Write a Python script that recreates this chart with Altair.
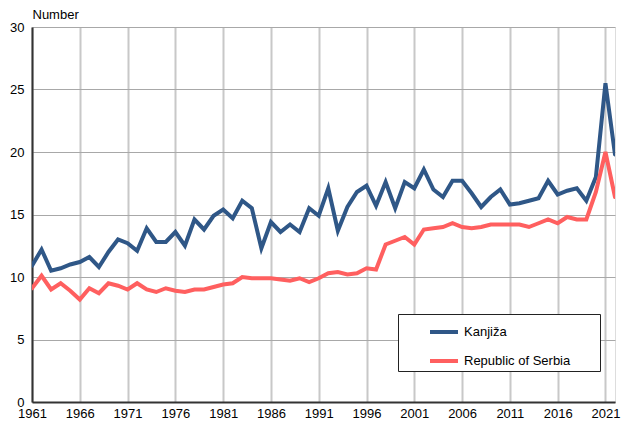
import altair as alt
import pandas as pd

years = list(range(1961, 2023))
kanjiza = [10.9, 12.2, 10.5, 10.7, 11.0, 11.2, 11.6, 10.8, 12.0, 13.0,
           12.7, 12.1, 13.9, 12.8, 12.8, 13.6, 12.5, 14.6, 13.8, 14.9,
           15.4, 14.7, 16.1, 15.5, 12.3, 14.4, 13.6, 14.2, 13.6, 15.5,
           14.9, 17.1, 13.7, 15.6, 16.8, 17.3, 15.7, 17.6, 15.5, 17.6,
           17.1, 18.6, 17.0, 16.4, 17.7, 17.7, 16.7, 15.6, 16.4, 17.0,
           15.8, 15.9, 16.1, 16.3, 17.7, 16.6, 16.9, 17.1, 16.1, 18.0,
           25.5, 19.8]
serbia = [9.1, 10.1, 9.0, 9.5, 8.9, 8.2, 9.1, 8.7, 9.5, 9.3,
          9.0, 9.5, 9.0, 8.8, 9.1, 8.9, 8.8, 9.0, 9.0, 9.2,
          9.4, 9.5, 10.0, 9.9, 9.9, 9.9, 9.8, 9.7, 9.9, 9.6,
          9.9, 10.3, 10.4, 10.2, 10.3, 10.7, 10.6, 12.6, 12.9, 13.2,
          12.6, 13.8, 13.9, 14.0, 14.3, 14.0, 13.9, 14.0, 14.2, 14.2,
          14.2, 14.2, 14.0, 14.3, 14.6, 14.3, 14.8, 14.6, 14.6, 16.8,
          20.0, 16.4]
series_names = ["Kanjiža", "Republic of Serbia"]
series_colors = ["#2f5787", "#ff5f5f"]
x_ticks = list(range(1961, 2022, 5))
y_ticks = [0, 5, 10, 15, 20, 25, 30]

df = pd.DataFrame({
    "year": years * 2,
    "value": kanjiza + serbia,
    "series": [series_names[0]] * len(years) + [series_names[1]] * len(years),
})

font = "Liberation Sans"
blank = "\u2800\u00a0\u00a0\u2800"

lines = alt.Chart(df).mark_line(strokeWidth=4, strokeJoin="miter", strokeCap="round",
                                clip=True).encode(
    x=alt.X("year:Q",
            scale=alt.Scale(domain=[1961, 2022], nice=False, zero=False),
            axis=alt.Axis(values=x_ticks, format="d", title=None, ticks=False,
                          labelPadding=5, labelFontSize=13, labelColor="#000",
                          labelFont=font, gridColor="#c8c8c8", gridWidth=2,
                          domainColor="#333", domainWidth=2, labelFlush=False)),
    y=alt.Y("value:Q",
            scale=alt.Scale(domain=[0, 30], nice=False),
            axis=alt.Axis(values=y_ticks, title="Number", ticks=False,
                          labelPadding=8, labelFontSize=13, labelColor="#000",
                          labelFont=font, gridColor="#a8a8a8", gridWidth=1,
                          domainColor="#333", domainWidth=2,
                          titleAngle=0, titleAlign="left", titleX=0, titleY=-9,
                          titleBaseline="alphabetic", titleFontSize=13,
                          titleFontWeight="normal", titleFont=font, titleColor="#000")),
    color=alt.Color("series:N",
                    scale=alt.Scale(domain=series_names, range=series_colors),
                    legend=alt.Legend(title=None, orient="none", legendX=366, legendY=287,
                                      symbolType="stroke", symbolStrokeWidth=4,
                                      symbolSize=784, labelFontSize=13, labelFont=font,
                                      labelColor="#000", strokeColor="#222",
                                      fillColor="white", padding=2, rowPadding=5,
                                      symbolOffset=28, labelOffset=4, labelLimit=400,
                                      labelExpr="datum.label + '" + blank + "'")),
)

chart = lines.properties(
    width=583, height=375,
    autosize=alt.AutoSizeParams(type="none"),
    padding={"left": 24, "top": 19, "right": 6, "bottom": 22},
).configure_view(stroke="#000", strokeWidth=1).configure(background="white")

chart.save("out.html", embed_options={"renderer": "svg", "actions": False})
